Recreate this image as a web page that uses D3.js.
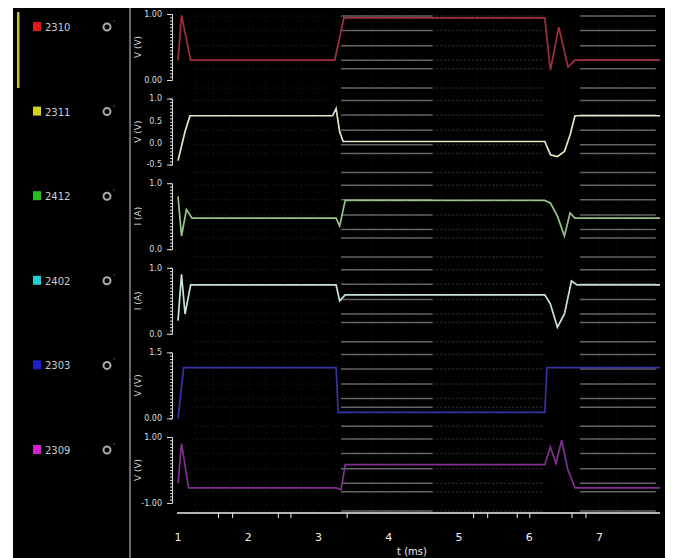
<!DOCTYPE html>
<html>
<head>
<meta charset="utf-8">
<script src="https://cdn.jsdelivr.net/npm/d3@7"></script>
<style>
  html, body { margin: 0; padding: 0; background: #fff; }
  svg { display: block; }
</style>
</head>
<body>
<svg id="chart"></svg>
<script>
// channel names and colours
const channels = ["2310", "2311", "2412", "2402", "2303", "2309"];
const legendColors = ["#e01818", "#d8d020", "#22c022", "#20d0d0", "#2020c8", "#d020d0"];
const traceColors = ["#a0303c", "#e8e8c8", "#98c488", "#c8e4d8", "#3434a8", "#803090"];
const yLabels = ["V (V)", "V (V)", "I (A)", "I (A)", "V (V)", "V (V)"];

// per channel y tick labels [value, label]
const yTickLabels = [
  [[1, "1.00"], [0, "0.00"]],
  [[1, "1.0"], [0.66, "0.5"], [0.33, "0.0"], [0, "-0.5"]],
  [[1, "1.0"], [0, "0.0"]],
  [[1, "1.0"], [0, "0.0"]],
  [[1, "1.5"], [0, "0.00"]],
  [[1, "1.00"], [0, "-1.00"]]
];

// traces, [time, value]
const traceRed = [[1.0, 0.30], [1.05, 0.98], [1.18, 0.30], [3.23, 0.30], [3.36, 0.94], [6.22, 0.94],
  [6.30, 0.15], [6.42, 0.80], [6.55, 0.20], [6.65, 0.30], [7.86, 0.30]];
const traceYellow = [[1.0, 0.06], [1.1, 0.50], [1.17, 0.74], [3.2, 0.74], [3.25, 0.85], [3.3, 0.50],
  [3.35, 0.35], [6.22, 0.35], [6.3, 0.15], [6.4, 0.12], [6.5, 0.20], [6.58, 0.45], [6.65, 0.74], [7.86, 0.74]];
const traceGreen = [[1.0, 0.80], [1.05, 0.20], [1.12, 0.60], [1.2, 0.47], [3.25, 0.47], [3.3, 0.35],
  [3.38, 0.74], [6.22, 0.74], [6.3, 0.70], [6.4, 0.50], [6.5, 0.20], [6.58, 0.55], [6.65, 0.47], [7.86, 0.47]];
const traceCyan = [[1.0, 0.20], [1.05, 0.90], [1.1, 0.30], [1.18, 0.74], [3.25, 0.74], [3.3, 0.50],
  [3.38, 0.59], [6.22, 0.59], [6.3, 0.45], [6.4, 0.10], [6.5, 0.30], [6.6, 0.80], [6.68, 0.74], [7.86, 0.74]];
const traceBlue = [[1.0, 0.0], [1.08, 0.77], [3.25, 0.77], [3.28, 0.09], [6.22, 0.09], [6.25, 0.77], [7.86, 0.77]];
const traceMagenta = [[1.0, 0.30], [1.05, 0.90], [1.15, 0.23], [3.25, 0.23], [3.32, 0.20], [3.38, 0.58],
  [6.22, 0.58], [6.3, 0.85], [6.38, 0.60], [6.46, 0.95], [6.55, 0.50], [6.65, 0.23], [7.86, 0.23]];
const traces = [traceRed, traceYellow, traceGreen, traceCyan, traceBlue, traceMagenta];

// reference (gray) levels and where they show
const refLevels = [0.97, 0.75, 0.52, 0.30, 0.17, -0.12];
const refSpans = [[3.32, 4.62, 0.55], [4.62, 6.2, 0.2], [6.72, 7.8, 0.55], [1.2, 3.2, 0.08]];

// x axis
const xTicks = [1, 2, 3, 4, 5, 6, 7];
const markers = [1.57, 1.77, 2.42, 2.6, 3.4, 5.2, 5.4, 5.82, 6.0, 6.6, 6.8];

const width = 674, height = 558;
const panelLeft = 13, panelTop = 8, panelRight = 665;
const sepX = 130;
const bandTop = 14, bandStep = 84.6, bandH = 66;
const axisY = 513;

const svg = d3.select("#chart")
  .attr("width", width)
  .attr("height", height)
  .attr("font-family", "DejaVu Sans, sans-serif");

svg.append("rect")
  .attr("x", panelLeft).attr("y", panelTop)
  .attr("width", panelRight - panelLeft).attr("height", height - panelTop)
  .attr("fill", "#000");

// left legend panel
svg.append("line")
  .attr("x1", sepX).attr("x2", sepX)
  .attr("y1", panelTop).attr("y2", height)
  .attr("stroke", "#8a8a8a").attr("stroke-width", 1.5);

svg.append("rect")
  .attr("x", 17).attr("y", 12).attr("width", 2.5).attr("height", 76)
  .attr("fill", "#c8c024");

const xScale = d3.scaleLinear([0.9, 7.86], [171, 660]);
const line = d3.line().x(d => xScale(d[0]));

channels.forEach((name, i) => {
  const top = bandTop + i * bandStep;
  const y = d3.scaleLinear([0, 1], [top + bandH, top]);
  const ly = top + 13;

  // legend entry
  const lg = svg.append("g");
  lg.append("rect")
    .attr("x", 33).attr("y", ly - 5).attr("width", 8).attr("height", 9)
    .attr("fill", legendColors[i]);
  lg.append("text")
    .attr("x", 45).attr("y", ly + 4)
    .attr("fill", "#ccc").attr("font-size", 10)
    .text(name);
  lg.append("circle")
    .attr("cx", 107).attr("cy", ly).attr("r", 3.5)
    .attr("fill", "none").attr("stroke", "#aaa").attr("stroke-width", 2);
  lg.append("text")
    .attr("x", 113).attr("y", ly - 2)
    .attr("fill", "#888").attr("font-size", 7)
    .text("'");

  // y label
  svg.append("text")
    .attr("transform", `translate(141,${top + bandH / 2}) rotate(-90)`)
    .attr("text-anchor", "middle")
    .attr("fill", "#ccc").attr("font-size", 9)
    .text(yLabels[i]);

  // y axis bracket
  svg.append("g")
    .attr("transform", "translate(172,0)")
    .call(d3.axisLeft(y).ticks(24).tickSize(2).tickSizeOuter(5).tickFormat(""))
    .call(g => g.selectAll("path, line").attr("stroke", "#ddd"));

  svg.append("g")
    .selectAll("text")
    .data(yTickLabels[i])
    .join("text")
    .attr("x", 162).attr("y", d => y(d[0]))
    .attr("dy", "0.35em")
    .attr("text-anchor", "end")
    .attr("fill", "#ddd").attr("font-size", 8)
    .text(d => d[1]);

  // gray reference lines
  const ref = svg.append("g");
  refSpans.forEach(s => {
    ref.append("g")
      .selectAll("line")
      .data(refLevels)
      .join("line")
      .attr("x1", xScale(s[0])).attr("x2", xScale(s[1]))
      .attr("y1", d => y(d)).attr("y2", d => y(d))
      .attr("stroke", "#b8b8b8")
      .attr("stroke-opacity", s[2])
      .attr("stroke-width", 1.5)
      .attr("stroke-dasharray", s[2] < 0.5 ? "2,2" : null);
  });

  // trace
  svg.append("path")
    .datum(traces[i])
    .attr("d", line.y(d => y(d[1])))
    .attr("fill", "none")
    .attr("stroke", traceColors[i])
    .attr("stroke-width", 1.7);
});

// faint vertical grid
svg.append("g")
  .selectAll("line")
  .data(d3.range(1.25, 7.8, 0.25))
  .join("line")
  .attr("x1", d => xScale(d)).attr("x2", d => xScale(d))
  .attr("y1", 12).attr("y2", axisY - 4)
  .attr("stroke", "#444").attr("stroke-opacity", 0.3)
  .attr("stroke-dasharray", "1,3");

// x axis
svg.append("g")
  .attr("transform", `translate(0,${axisY})`)
  .call(d3.axisBottom(xScale).tickValues(markers).tickSize(5).tickFormat(""))
  .call(g => g.select(".domain").attr("stroke", "#eee").attr("stroke-width", 1.5)
    .attr("d", `M${xScale(1) - 1},0H660`))
  .call(g => g.selectAll(".tick line").attr("stroke", "#eee"));

svg.append("g")
  .selectAll("text")
  .data(xTicks)
  .join("text")
  .attr("x", d => xScale(d)).attr("y", 541)
  .attr("text-anchor", "middle")
  .attr("fill", "#eee").attr("font-size", 11)
  .text(d => d);

svg.append("text")
  .attr("x", 412).attr("y", 555)
  .attr("text-anchor", "middle")
  .attr("fill", "#eee").attr("font-size", 10)
  .text("t (ms)");
</script>
</body>
</html>
